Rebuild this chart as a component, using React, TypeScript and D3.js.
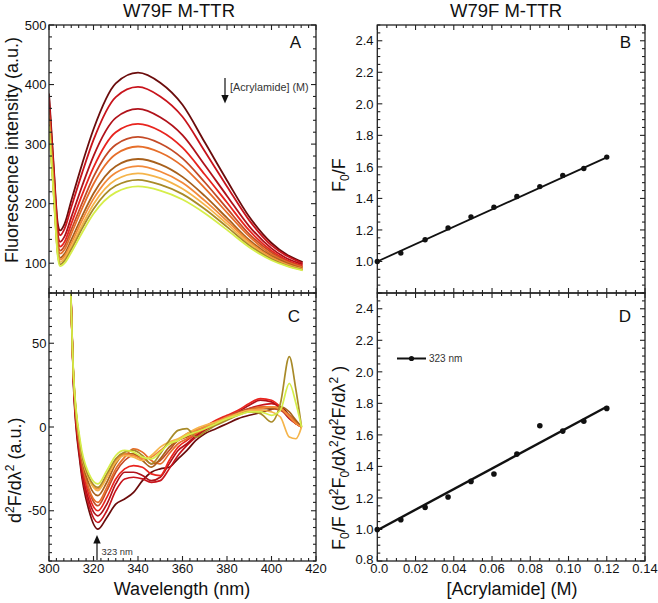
import React from 'react';
import * as d3 from 'd3';

// ---------- Panel A: fluorescence spectra (top = 0 M acrylamide) ----------
const WL_A = [300, 302, 304, 305, 307, 310, 315, 320, 330, 340, 350, 360, 370, 380, 390, 400, 407, 414];
const SPEC_A1 = [385, 270, 165, 155, 166, 205, 268, 325, 402, 420, 403, 366, 303, 239, 178, 134, 114, 102];
const SPEC_A2 = [378, 264, 158, 147, 158, 194, 253, 307, 379, 396, 380, 346, 288, 229, 172, 130, 112, 100];
const SPEC_A3 = [367, 254, 147, 136, 145, 177, 231, 280, 344, 359, 345, 315, 265, 213, 162, 125, 108, 98];
const SPEC_A4 = [360, 248, 140, 128, 136, 166, 216, 261, 320, 334, 322, 294, 249, 202, 155, 121, 105, 96];
const SPEC_A5 = [354, 242, 134, 121, 129, 156, 202, 245, 299, 312, 301, 276, 236, 192, 149, 118, 103, 94];
const SPEC_A6 = [349, 238, 129, 116, 123, 149, 193, 233, 283, 296, 286, 263, 226, 185, 145, 115, 102, 93];
const SPEC_A7 = [343, 232, 123, 109, 116, 139, 180, 217, 263, 275, 266, 245, 213, 176, 139, 112, 100, 91];
const SPEC_A8 = [340, 229, 120, 106, 112, 133, 173, 208, 252, 263, 254, 235, 205, 171, 136, 110, 98, 90];
const SPEC_A9 = [336, 226, 116, 102, 108, 128, 165, 199, 240, 251, 243, 225, 198, 166, 133, 108, 97, 90];
const SPEC_A10 = [333, 223, 113, 98, 104, 123, 159, 191, 230, 240, 232, 216, 191, 161, 130, 107, 96, 89];
const SPEC_A11 = [330, 220, 110, 95, 100, 118, 152, 183, 219, 229, 222, 207, 184, 156, 127, 105, 95, 88];
const SPECTRA_A = [SPEC_A1, SPEC_A2, SPEC_A3, SPEC_A4, SPEC_A5, SPEC_A6, SPEC_A7, SPEC_A8, SPEC_A9, SPEC_A10, SPEC_A11];

// ---------- Panel C: second derivative spectra ----------
const WL_C = [309.5, 311, 314, 318, 322, 326, 330, 334, 338, 342, 346, 350, 354, 358, 362, 366, 370, 375, 380, 385, 390, 395, 400, 404, 408, 411, 413.5];
const SPEC_C1 = [95, 25, -22, -50, -61, -54, -46, -43, -39, -32, -27, -25, -24, -19, -14, -8, -4, -1, 2, 5, 7, 8.5, 10.5, 12, 7, 3, 0];
const SPEC_C2 = [95, 27, -20, -47, -57, -50, -38, -31, -30, -31, -33, -32, -25, -17, -11, -6, -2, 2, 5, 8, 11, 13, 14, 12, 6, 2, 0];
const SPEC_C3 = [95, 28, -18, -44, -53, -46, -34, -27, -27, -29, -32, -30, -22, -14, -10, -5, -1, 3, 6, 9, 13, 16, 15, 11, 5, 2, 0];
const SPEC_C4 = [95, 29, -16, -41, -50, -42, -31, -25, -23, -24, -28, -29, -20, -12, -8, -4, 0, 4, 7, 10, 14, 17, 16, 12, 6, 2, 0];
const SPEC_C5 = [95, 30, -14, -38, -47, -38, -27, -20, -17, -18, -22, -20, -14, -8, -6, -3, 0, 3, 6, 9, 11, 12, 11, 10, 6, 2, 0];
const SPEC_C6 = [95, 30, -13, -37, -45, -36, -25, -18, -13, -15, -20, -22, -16, -10, -7, -4, -1, 2, 5, 8, 10, 12, 12, 11, 7, 3, 0];
const SPEC_C7 = [95, 31, -12, -34, -41, -33, -22, -16, -16, -20, -24, -19, -12, -8, -4, -2, 0, 2, 5, 8, 10, 11, 11, 12, 9, 4, 0];
const SPEC_C8 = [95, 31, -11, -31, -37, -30, -20, -16, -17, -19, -18, -14, -10, -8, -5, -2, 0, 3, 6, 8, 10, 11, 12, 11, 6, 2, 0];
const SPEC_C9 = [95, 31, -11, -31, -38, -30, -21, -17, -18, -20, -17, -12, -9, -7, -4, -1, 1, 3, 5, 8, 10, 10, 9, 6, -6, -7, 0];
const SPEC_C10 = [95, 32, -10, -30, -36, -28, -19, -15, -14, -17, -22, -16, -8, -2, -1, -6, -3, 1, 4, 7, 9, 8, 3, 14, 42, 22, 0];
const SPEC_C11 = [95, 32, -8, -28, -34, -26, -17, -14, -15, -18, -19, -15, -10, -8, -5, -3, -1, 2, 5, 7, 9, 9, 7, 10, 26, 14, 0];
const SPECTRA_C = [SPEC_C1, SPEC_C2, SPEC_C3, SPEC_C4, SPEC_C5, SPEC_C6, SPEC_C7, SPEC_C8, SPEC_C9, SPEC_C10, SPEC_C11];

const COLORS = ['#6b0c0c', '#c8141c', '#b0121a', '#e8241e', '#c44a26', '#e66e2a', '#a8601c', '#f28a3a', '#f5b44a', '#a88a28', '#d6ee4a'];

// ---------- Panels B and D: Stern-Volmer ----------
const CONC = [0, 0.0123, 0.025, 0.037, 0.049, 0.061, 0.073, 0.085, 0.097, 0.108, 0.12];
const F0_F = [1.0, 1.053, 1.138, 1.213, 1.283, 1.344, 1.412, 1.475, 1.546, 1.59, 1.662];
const F0_F_DERIV = [1.0, 1.062, 1.14, 1.206, 1.305, 1.352, 1.478, 1.658, 1.624, 1.686, 1.768];
const FIT_B = [1.0, 5.5];      // intercept, slope
const FIT_D = [0.995, 6.53];

const WL_TICKS = [300, 320, 340, 360, 380, 400, 420];
const A_TICKS = [100, 200, 300, 400, 500];
const C_TICKS = [-50, 0, 50];
const BD_TICKS = [0.8, 1.0, 1.2, 1.4, 1.6, 1.8, 2.0, 2.2, 2.4];
const CONC_TICKS = [0, 0.02, 0.04, 0.06, 0.08, 0.1, 0.12, 0.14];
const CONC_LABELS = ['0.0', '0.02', '0.04', '0.06', '0.08', '0.10', '0.12', '0.14'];

const FONT = 'Liberation Sans, Arial, Helvetica, sans-serif';

type Tick = { v: number; major: boolean };

function Frame({ xs, ys, xt, yt }: { xs: any; ys: any; xt: Tick[]; yt: Tick[] }) {
  const [x0, x1] = xs.range();
  const [y0, y1] = ys.range(); // y0 bottom, y1 top
  const els: any[] = [];
  xt.forEach((t, i) => {
    const x = xs(t.v);
    const L = t.major ? 5 : 3;
    els.push(<line key={'xb' + i} x1={x} x2={x} y1={y0} y2={y0 - L} />);
    els.push(<line key={'xt' + i} x1={x} x2={x} y1={y1} y2={y1 + L} />);
  });
  yt.forEach((t, i) => {
    const y = ys(t.v);
    const L = t.major ? 5 : 3;
    els.push(<line key={'yl' + i} x1={x0} x2={x0 + L} y1={y} y2={y} />);
    els.push(<line key={'yr' + i} x1={x1} x2={x1 - L} y1={y} y2={y} />);
  });
  return (
    <g stroke="#222" strokeWidth={1.1} fill="none">
      <rect x={x0} y={y1} width={x1 - x0} height={y0 - y1} strokeWidth={1.3} />
      {els}
    </g>
  );
}

export default function App() {
  const xWL = d3.scaleLinear().domain([300, 420]).range([49, 316]);
  const yA = d3.scaleLinear().domain([50, 500]).range([293, 25]);
  const yC = d3.scaleLinear().domain([-80, 80]).range([561, 293]);
  const xC = d3.scaleLinear().domain([0, 0.14]).range([377.3, 645]);
  const yB = d3.scaleLinear().domain([0.8, 2.5]).range([293, 25]);
  const yD = d3.scaleLinear().domain([0.8, 2.5]).range([561, 293]);

  const wlTicks: Tick[] = d3.range(0, 37).map(i => ({ v: 300 + (i * 20) / 6, major: i % 6 === 0 }));
  const aTicks: Tick[] = d3.range(60, 501, 20).map(v => ({ v, major: v % 100 === 0 }));
  const cTicks: Tick[] = d3.range(-80, 81, 5).map(v => ({ v, major: v % 50 === 0 }));
  const bdTicks: Tick[] = d3.range(0, 35).map(i => ({ v: 0.8 + i * 0.05, major: i % 4 === 0 }));
  const concTicks: Tick[] = d3.range(0, 29).map(i => ({ v: i * 0.005, major: i % 4 === 0 }));

  const lineA = (vals: number[]) =>
    d3.line<number>().x((_, i) => xWL(WL_A[i])).y(d => yA(d)).curve(d3.curveMonotoneX)(vals) as string;
  const lineC = (vals: number[]) =>
    d3.line<number>().x((_, i) => xWL(WL_C[i])).y(d => yC(d)).curve(d3.curveMonotoneX)(vals) as string;

  const xEnd = CONC[CONC.length - 1];
  const fitB = d3.line<number>().x(d => xC(d)).y(d => yB(FIT_B[0] + FIT_B[1] * d))([0, xEnd]) as string;
  const fitD = d3.line<number>().x(d => xC(d)).y(d => yD(FIT_D[0] + FIT_D[1] * d))([0, xEnd]) as string;

  const tickText = { fontSize: 13, fill: '#111', fontFamily: FONT };

  return (
    <svg width={658} height={603} style={{ position: 'absolute', left: 0, top: 0, background: '#fff' }} fontFamily={FONT}>
      <defs>
        <clipPath id="clipA"><rect x={49} y={25} width={267} height={268} /></clipPath>
        <clipPath id="clipC"><rect x={49} y={293} width={267} height={268} /></clipPath>
      </defs>
      <rect x={0} y={0} width={658} height={603} fill="#fff" />

      {/* Titles */}
      <text x={179} y={17} textAnchor="middle" fontSize={18.5} fill="#111">W79F M-TTR</text>
      <text x={506} y={17} textAnchor="middle" fontSize={18.5} fill="#111">W79F M-TTR</text>

      {/* Panel A curves */}
      <g clipPath="url(#clipA)" fill="none" strokeWidth={1.8}>
        {SPECTRA_A.map((s, i) => (
          <path key={i} d={lineA(s)} stroke={COLORS[i]} />
        ))}
      </g>
      {/* Panel C curves */}
      <g clipPath="url(#clipC)" fill="none" strokeWidth={1.7}>
        {SPECTRA_C.map((s, i) => (
          <path key={i} d={lineC(s)} stroke={COLORS[i]} />
        ))}
      </g>

      <Frame xs={xWL} ys={yA} xt={wlTicks} yt={aTicks} />
      <Frame xs={xWL} ys={yC} xt={wlTicks} yt={cTicks} />
      <Frame xs={xC} ys={yB} xt={concTicks} yt={bdTicks} />
      <Frame xs={xC} ys={yD} xt={concTicks} yt={bdTicks} />

      {/* Tick labels */}
      {A_TICKS.map(v => (
        <text key={'a' + v} x={46.5} y={yA(v)} dy="0.36em" textAnchor="end" {...tickText}>{v}</text>
      ))}
      {C_TICKS.map(v => (
        <text key={'c' + v} x={46.5} y={yC(v)} dy="0.36em" textAnchor="end" {...tickText}>{v}</text>
      ))}
      {WL_TICKS.map(v => (
        <text key={'w' + v} x={xWL(v)} y={573} textAnchor="middle" {...tickText}>{v}</text>
      ))}
      {BD_TICKS.filter(v => v > 0.9).map(v => (
        <text key={'b' + v} x={373.5} y={yB(v)} dy="0.36em" textAnchor="end" {...tickText}>{v.toFixed(1)}</text>
      ))}
      {BD_TICKS.map(v => (
        <text key={'d' + v} x={373.5} y={yD(v) - (v < 0.9 ? 2 : 0)} dy="0.36em" textAnchor="end" {...tickText}>{v.toFixed(1)}</text>
      ))}
      {CONC_TICKS.map((v, i) => (
        <text key={'x' + i} x={xC(v) + (i === 0 ? 2 : 0)} y={573} textAnchor="middle" {...tickText}>{CONC_LABELS[i]}</text>
      ))}

      {/* Axis labels */}
      <text transform="translate(18,263) rotate(-90)" fontSize={18} fill="#111">Fluorescence intensity (a.u.)</text>
      <text transform="translate(21,523) rotate(-90)" fontSize={18} fill="#111">
        d<tspan dy={-7} fontSize={12}>2</tspan><tspan dy={7}>F/d</tspan>λ<tspan dy={-7} fontSize={12}>2</tspan><tspan dy={7}> (a.u.)</tspan>
      </text>
      <text transform="translate(345,192) rotate(-90)" fontSize={18} fill="#111">
        F<tspan dy={4} fontSize={12}>0</tspan><tspan dy={-4}>/F</tspan>
      </text>
      <text transform="translate(345,550) rotate(-90)" fontSize={18} fill="#111">
        F<tspan dy={4} fontSize={12}>0</tspan><tspan dy={-4}>/F   (d</tspan>
        <tspan dy={-7} fontSize={12}>2</tspan><tspan dy={7}>F</tspan>
        <tspan dy={4} fontSize={12}>0</tspan><tspan dy={-4}>/dλ</tspan>
        <tspan dy={-7} fontSize={12}>2</tspan><tspan dy={7}>/d</tspan>
        <tspan dy={-7} fontSize={12}>2</tspan><tspan dy={7}>F/dλ</tspan>
        <tspan dy={-7} fontSize={12}>2</tspan><tspan dy={7}> )</tspan>
      </text>
      <text x={182} y={595} textAnchor="middle" fontSize={18} fill="#111">Wavelength (nm)</text>
      <text x={512} y={595} textAnchor="middle" fontSize={18} fill="#111">[Acrylamide] (M)</text>

      {/* Panel letters */}
      <text x={301} y={48} textAnchor="end" fontSize={17} fill="#111">A</text>
      <text x={631} y={48} textAnchor="end" fontSize={17} fill="#111">B</text>
      <text x={300} y={322} textAnchor="end" fontSize={17} fill="#111">C</text>
      <text x={631} y={322} textAnchor="end" fontSize={17} fill="#111">D</text>

      {/* Annotation A */}
      <line x1={225} x2={225} y1={78} y2={96} stroke="#111" strokeWidth={1.2} />
      <polygon points="221.3,95 228.7,95 225,103.5" fill="#111" />
      <text x={230} y={91} fontSize={10.8} fill="#333">[Acrylamide] (M)</text>

      {/* Annotation C */}
      <line x1={97} x2={97} y1={542} y2={560} stroke="#111" strokeWidth={1.2} />
      <polygon points="93.3,543.5 100.7,543.5 97,535" fill="#111" />
      <text x={101.5} y={554.5} fontSize={9.4} fill="#333">323 nm</text>

      {/* Panel B */}
      <path d={fitB} stroke="#111" strokeWidth={1.8} fill="none" />
      {CONC.map((c, i) => (
        <circle key={'pb' + i} cx={xC(c)} cy={yB(F0_F[i])} r={2.7} fill="#111" />
      ))}

      {/* Panel D */}
      <path d={fitD} stroke="#111" strokeWidth={2.4} fill="none" />
      {CONC.map((c, i) => (
        <circle key={'pd' + i} cx={xC(c)} cy={yD(F0_F_DERIV[i])} r={2.8} fill="#111" />
      ))}
      {/* Legend D */}
      <line x1={397} x2={426} y1={358.5} y2={358.5} stroke="#111" strokeWidth={2} />
      <circle cx={411.5} cy={358.5} r={2.6} fill="#111" />
      <text x={429} y={362} fontSize={10} fill="#333">323 nm</text>
    </svg>
  );
}
